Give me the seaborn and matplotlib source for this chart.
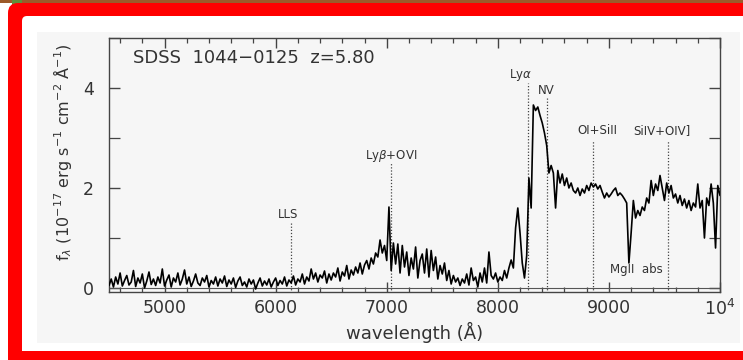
import numpy as np
import pandas as pd
import matplotlib
matplotlib.use("Agg")
import matplotlib.pyplot as plt
from matplotlib.patches import FancyBboxPatch, Rectangle
from matplotlib.ticker import MultipleLocator
import seaborn as sns

# ---------------- data ----------------
wave_start, wave_step = 4500, 20
flux_4500_6100 = [
    0.05, 0.18, 0.02, 0.22, 0.08, 0.30, 0.04, 0.15, 0.25, 0.06, 0.12,
    0.35, 0.03, 0.20, 0.10, 0.28, 0.00, 0.14, 0.32, 0.07, 0.18,
    0.05, 0.22, 0.10, 0.38, 0.04, 0.16, 0.26, 0.02, 0.20, 0.12,
    0.30, 0.06, 0.18, 0.36, 0.08, 0.22, 0.03, 0.14, 0.28, 0.10,
    0.05, 0.20, 0.12, 0.25, 0.02, 0.15, 0.08, 0.22, 0.04, 0.18,
    0.10, 0.24, 0.03, 0.16, 0.08, 0.20, 0.01, 0.14, 0.22, 0.05,
    0.12, 0.02, 0.18, 0.08, 0.16, -0.02, 0.10, 0.20, 0.04, 0.14,
    0.06, 0.18, 0.02, 0.12, 0.20, 0.05, 0.15, 0.08, 0.22, 0.04,
]
flux_6120_7100 = [
    0.16, 0.10, 0.24, 0.06, 0.18, 0.12, 0.28, 0.08, 0.22, 0.14,
    0.38, 0.18, 0.30, 0.12, 0.26, 0.20, 0.34, 0.10, 0.28, 0.16,
    0.30, 0.22, 0.40, 0.14, 0.32, 0.24, 0.45, 0.18, 0.36, 0.26,
    0.42, 0.30, 0.50, 0.28, 0.46, 0.55, 0.38, 0.60, 0.48, 0.70,
    0.62, 0.96, 0.70, 0.85, 0.55, 1.62, 0.35, 0.90, 0.48, 0.88,
]
flux_7120_8100 = [
    0.30, 0.85, 0.42, 0.72, 0.25, 0.60, 0.38, 0.82, 0.20, 0.55,
    0.68, 0.30, 0.78, 0.22, 0.75, 0.35, 0.62, 0.18, 0.45, 0.28,
    0.50, 0.15, 0.35, 0.08, 0.25, 0.12, 0.20, 0.05, 0.18, 0.10,
    0.28, 0.06, 0.40, 0.15, 0.22, 0.02, 0.30, 0.12, 0.40, 0.10,
    0.72, 0.25, 0.18, 0.30, 0.12, 0.22, 0.15, 0.35, 0.20, 0.40,
]
flux_8120_9100 = [
    0.56, 0.40, 1.20, 1.60, 1.10, 0.50, 0.20, 0.65, 2.20, 1.60,
    3.66, 3.55, 3.62, 3.45, 3.30, 3.10, 2.85, 2.30, 2.45, 2.30,
    1.60, 2.35, 2.10, 2.28, 2.05, 2.20, 2.00, 2.10, 1.95, 1.90,
    2.00, 1.85, 1.98, 1.90, 2.05, 1.95, 2.10, 2.02, 2.08, 1.98,
    2.05, 1.92, 1.80, 1.90, 1.82, 1.88, 1.95, 2.00, 1.85, 1.90,
]
flux_9120_10000 = [
    1.85, 1.78, 1.70, 0.50, 1.10, 1.75, 1.40, 1.55, 1.45, 1.62,
    1.55, 1.80, 1.70, 2.15, 1.85, 2.08, 1.95, 2.25, 2.00, 1.75,
    2.10, 1.90, 2.05, 1.80, 1.88, 1.70, 1.85, 1.65, 1.78, 1.60,
    1.75, 1.55, 1.70, 1.62, 2.08, 1.60, 1.75, 1.00, 1.80, 1.65,
    2.08, 1.70, 0.80, 2.05, 1.85,
]
flux = (flux_4500_6100 + flux_6120_7100 + flux_7120_8100
        + flux_8120_9100 + flux_9120_10000)
wavelength = wave_start + wave_step * np.arange(len(flux))

line_labels = ["LLS", r"Ly$\beta$+OVI", r"Ly$\alpha$", "NV", "OI+SiII", "SiIV+OIV]"]
line_wave = [6140, 7037, 8275, 8443, 8860, 9530]
line_top = [1.30, 2.53, 4.10, 3.83, 2.96, 2.96]
label_x = [6110, 7040, 8205, 8440, 8895, 9480]
label_y = [1.46, 2.64, 4.26, 3.95, 3.15, 3.15]

abs_label, abs_x, abs_y = "MgII  abs", 9250, 0.36
title_text = "SDSS  1044\u22120125  z=5.80"

x_ticks = [5000, 6000, 7000, 8000, 9000, 10000]
x_ticklabels = ["5000", "6000", "7000", "8000", "9000", r"10$^4$"]
y_ticks = [0, 2, 4]

# ---------------- style ----------------
sns.set_theme(style="ticks")
plt.rcParams["font.family"] = ["DejaVu Sans"]
plt.rcParams["mathtext.fontset"] = "dejavusans"
txt = "#333333"
red = "#ff0000"

fig = plt.figure(figsize=(7.43, 3.60), dpi=100)
fig.patch.set_facecolor("white")

# frame decorations (in inches, origin bottom-left)
T = fig.dpi_scale_trans
deco = [
    Rectangle((0.0, 3.57), 7.43, 0.03, facecolor="#9c5a2a"),
    Rectangle((0.12, 3.55), 0.10, 0.05, facecolor="#5f8f3a"),
    Rectangle((0.40, 3.44), 7.03, 0.13, facecolor=red),          # top bar
    Rectangle((0.08, 0.0), 0.14, 3.20, facecolor=red),           # left bar
    Rectangle((0.08, 0.0), 7.35, 0.09, facecolor=red),           # bottom bar
    FancyBboxPatch((0.08, 3.0), 0.52, 0.57, boxstyle="round,pad=0,rounding_size=0.10",
                   facecolor=red),
    FancyBboxPatch((0.22, 2.9), 0.48, 0.54, boxstyle="round,pad=0,rounding_size=0.05",
                   facecolor="white"),
    Rectangle((7.36, 0.09), 0.07, 3.35, facecolor="white"),
    Rectangle((0.37, 0.17), 7.03, 3.11, facecolor="#f6f6f6"),
]
for p in deco:
    p.set_transform(T)
    p.set_edgecolor("none")
    p.set_zorder(-5)
    fig.patches.append(p)

ax = fig.add_axes([109 / 743, 1 - 292 / 360, 611 / 743, 254 / 360])
ax.set_zorder(2)
ax.set_facecolor("none")

df = pd.DataFrame({"wavelength": wavelength, "flux": flux})
sns.lineplot(data=df, x="wavelength", y="flux", ax=ax, color="black",
             lw=1.2, estimator=None, zorder=3)

ax.axhline(0, color="#555555", lw=0.8, zorder=2)
ax.vlines(line_wave, -0.1, line_top, colors="#444444", linestyles=(0, (1, 1.5)),
          lw=0.9, zorder=2)
for lab, lx, ly in zip(line_labels, label_x, label_y):
    ax.text(lx, ly, lab, ha="center", va="center", fontsize=8.5, color=txt)
ax.text(abs_x, abs_y, abs_label, ha="center", va="center", fontsize=8.5, color=txt)
ax.text(4716, 4.6, title_text, ha="left", va="center", fontsize=13, color=txt)

ax.set_xlim(4500, 10000)
ax.set_ylim(-0.08, 5.0)
ax.set_xticks(x_ticks)
ax.set_xticklabels(x_ticklabels)
ax.set_yticks(y_ticks)
ax.xaxis.set_minor_locator(MultipleLocator(200))
ax.yaxis.set_minor_locator(MultipleLocator(1))
ax.tick_params(axis="both", which="major", direction="in", top=True, right=True,
               length=7, width=1, color="#444444", labelsize=12.5, labelcolor=txt)
ax.tick_params(axis="both", which="minor", direction="in", top=True, right=True,
               length=3.5, width=0.9, color="#444444")
ax.tick_params(axis="y", which="both", length=8, pad=11)
ax.tick_params(axis="x", which="major", pad=5)
for s in ax.spines.values():
    s.set_color("#444444")
    s.set_linewidth(1.0)
ax.set_xlabel("")
ax.set_ylabel("")

fig.text(415 / 743, 1 - 332 / 360, "wavelength (\u00c5)", ha="center", va="center",
         fontsize=13, color=txt)
fig.text(62 / 743, 1 - 152 / 360,
         r"f$_\lambda$ (10$^{-17}$ erg s$^{-1}$ cm$^{-2}$ $\mathrm{\AA}^{-1}$)",
         ha="center", va="center", rotation=90, fontsize=11.5, color=txt)

fig.savefig("out.png", dpi=100)
